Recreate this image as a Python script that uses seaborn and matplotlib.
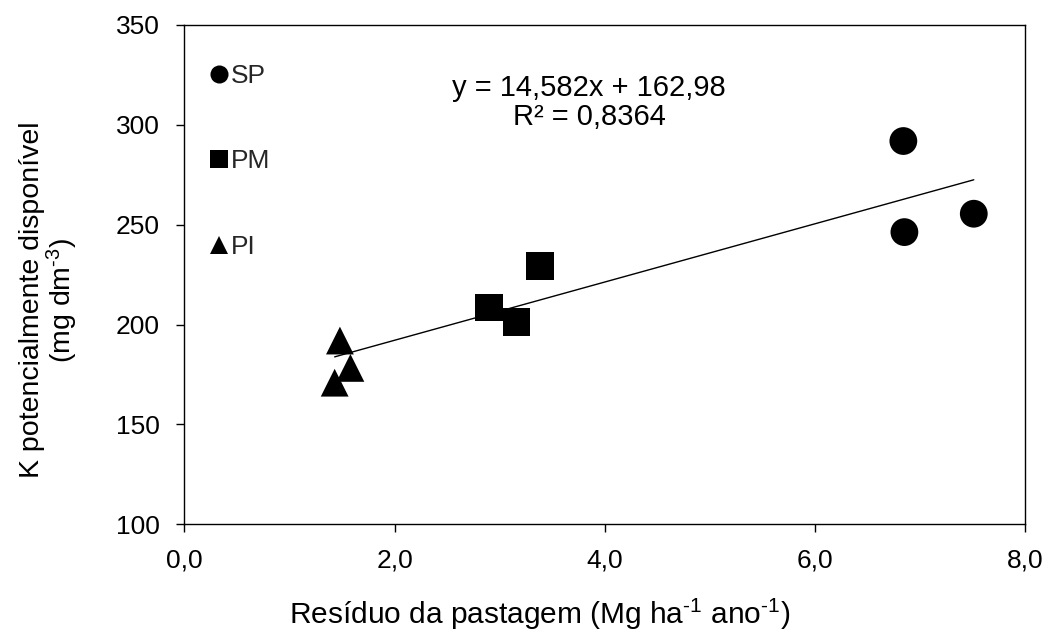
import numpy as np
import pandas as pd
import matplotlib
matplotlib.use("Agg")
import matplotlib.pyplot as plt
from matplotlib.lines import Line2D
import seaborn as sns

# ---- data ----
groups = ["SP", "SP", "SP", "PM", "PM", "PM", "PI", "PI", "PI"]
residue = [6.84, 6.85, 7.51, 2.90, 3.16, 3.38, 1.48, 1.58, 1.43]
k_avail = [291.9, 246.3, 255.5, 208.6, 201.2, 229.4, 192.0, 178.3, 170.9]
legend_labels = ["SP", "PM", "PI"]
slope = 14.582
intercept = 162.98
r2_text = "0,8364"
x_ticks = [0, 2, 4, 6, 8]
x_tick_labels = ["0,0", "2,0", "4,0", "6,0", "8,0"]
y_ticks = [100, 150, 200, 250, 300, 350]

df = pd.DataFrame({"grupo": groups, "x": residue, "y": k_avail})

sns.set_theme(style="white")
plt.rcParams["font.family"] = ["Liberation Sans", "DejaVu Sans"]
plt.rcParams["mathtext.fontset"] = "custom"
plt.rcParams["mathtext.rm"] = "Liberation Sans"
plt.rcParams["mathtext.it"] = "Liberation Sans"

FS_TICK = 19
FS_TXT = 20.5
fig = plt.figure(figsize=(10.57, 6.31), dpi=100)
ax = fig.add_axes([0.1744, 0.1691, 0.7956, 0.7913])

markers = {"SP": "o", "PM": "s", "PI": "^"}
sns.scatterplot(data=df, x="x", y="y", style="grupo", markers=markers,
                color="black", s=400, linewidth=0, legend=False, ax=ax, zorder=3)

# trend line from reported equation over the data range
xl = np.array([min(residue), max(residue)])
ax.plot(xl, slope * xl + intercept, color="black", lw=1.0, zorder=2)

ax.text(3.85, 311, f"y = {slope:.3f}x + {intercept:.2f}".replace(".", ",") + f"\nR² = {r2_text}",
        ha="center", va="center", fontsize=21, linespacing=1.05, color="black")

ax.set_xlim(0, 8)
ax.set_ylim(100, 350)
ax.set_xticks(x_ticks)
ax.set_xticklabels(x_tick_labels)
ax.set_yticks(y_ticks)
ax.tick_params(axis="both", direction="out", length=6, width=1.0, pad=11.5,
               labelsize=FS_TICK, colors="black", bottom=True, left=True)
for sp in ax.spines.values():
    sp.set_color("black")
    sp.set_linewidth(1.0)

ax.set_xlabel(r"Resíduo da pastagem (Mg ha$^{\text{-1}}$ ano$^{\text{-1}}$)", fontsize=21.5,
              color="black")
ax.xaxis.set_label_coords(0.423, -0.145)
ax.set_ylabel("K potencialmente disponível\n" + r"(mg dm$^{\text{-3}}$)", fontsize=FS_TXT,
              color="black", linespacing=1.0)
ax.yaxis.set_label_coords(-0.124, 0.449)

handles = [Line2D([], [], marker=markers[g], ls="", color="black", markersize=13, markeredgewidth=0)
           for g in legend_labels]
ax.legend(handles, legend_labels, loc="upper left", bbox_to_anchor=(0.029, 0.922),
          frameon=False, fontsize=FS_TICK, handlelength=0.75, handletextpad=0.1,
          labelspacing=2.33, borderpad=0, borderaxespad=0)

fig.savefig("out.png", dpi=100)
